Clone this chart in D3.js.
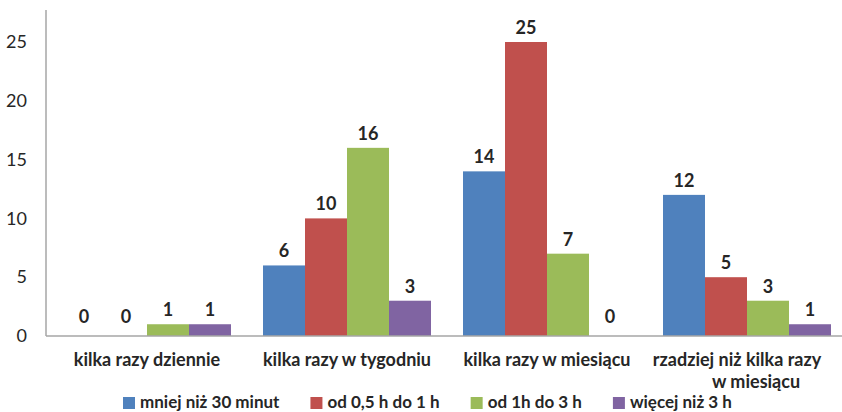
<!DOCTYPE html>
<html>
<head>
<meta charset="utf-8">
<script src="https://cdn.jsdelivr.net/npm/d3@7/dist/d3.min.js"></script>
<style>
  html, body { margin: 0; padding: 0; background: #fff; }
  svg { display: block; font-family: Lato, "Open Sans", sans-serif; }
</style>
</head>
<body>
<svg id="chart" width="842" height="412"></svg>
<script>
const categories = ["kilka razy dziennie", "kilka razy w tygodniu", "kilka razy w miesiącu", "rzadziej niż kilka razy|w miesiącu"];
const seriesNames = ["mniej niż 30 minut", "od 0,5 h do 1 h", "od 1h do 3 h", "więcej niż 3 h"];
const seriesColors = ["#4F81BD", "#C0504D", "#9BBB59", "#8064A2"];
const mniej30 = [0, 6, 14, 12];
const od05do1 = [0, 10, 25, 5];
const od1do3 = [1, 16, 7, 3];
const wiecej3 = [1, 3, 0, 1];
const yTicks = [0, 5, 10, 15, 20, 25];

const values = [mniej30, od05do1, od1do3, wiecej3];
const svg = d3.select("#chart");
const textColor = "#262626";
const axisColor = "#a6a6a6";
const fs = 18;

const x0 = d3.scaleBand().domain(categories).range([47, 847]).paddingInner(0.16).paddingOuter(0.08);
const x1 = d3.scaleBand().domain(seriesNames).range([0, x0.bandwidth()]);
const y = d3.scaleLinear().domain([0, 25]).range([336, 42]);

// y axis
const yAxis = svg.append("g").attr("transform", "translate(46,0)")
  .call(d3.axisLeft(y).tickValues(yTicks).tickSize(0).tickPadding(19));
yAxis.select(".domain").remove();
yAxis.selectAll("text").attr("font-size", fs).attr("fill", textColor).attr("font-family", "Lato, sans-serif");
svg.append("line").attr("x1", 46).attr("x2", 46).attr("y1", 10).attr("y2", y(0))
  .attr("stroke", axisColor).attr("stroke-width", 1.5);

// bars
const groups = svg.append("g").selectAll("g").data(categories).join("g")
  .attr("transform", d => `translate(${x0(d)},0)`);
groups.each(function(cat, ci) {
  const g = d3.select(this);
  seriesNames.forEach((s, si) => {
    const v = values[si][ci];
    if (v > 0) {
      g.append("rect").attr("x", x1(s)).attr("width", x1.bandwidth())
        .attr("y", y(v)).attr("height", y(0) - y(v)).attr("fill", seriesColors[si]);
    }
    g.append("text").attr("x", x1(s) + x1.bandwidth() / 2).attr("y", y(v) - (v === 0 ? 13 : 8))
      .attr("text-anchor", "middle").attr("font-size", fs).attr("font-weight", "bold")
      .attr("fill", textColor).text(v);
  });
});

// x axis line
svg.append("line").attr("x1", 46).attr("x2", 842).attr("y1", y(0)).attr("y2", y(0))
  .attr("stroke", axisColor).attr("stroke-width", 1.5);

// category labels
categories.forEach(c => {
  const lines = c.split("|");
  const t = svg.append("text").attr("text-anchor", "middle").attr("font-size", fs)
    .attr("font-weight", "bold").attr("fill", textColor);
  lines.forEach((l, i) => {
    t.append("tspan").attr("x", x0(c) + x0.bandwidth() / 2 + (lines.length > 1 ? (i === 0 ? -10 : 9) : 0))
      .attr("y", 366 + i * 21.7).text(l);
  });
});

// legend
let lx = 123;
seriesNames.forEach((s, i) => {
  svg.append("rect").attr("x", lx).attr("y", 397).attr("width", 12).attr("height", 12).attr("fill", seriesColors[i]);
  const t = svg.append("text").attr("x", lx + 17).attr("y", 408.2).attr("font-size", 17)
    .attr("font-weight", "bold").attr("fill", textColor).text(s);
  lx += 17 + t.node().getComputedTextLength() + 31;
});
</script>
</body>
</html>
